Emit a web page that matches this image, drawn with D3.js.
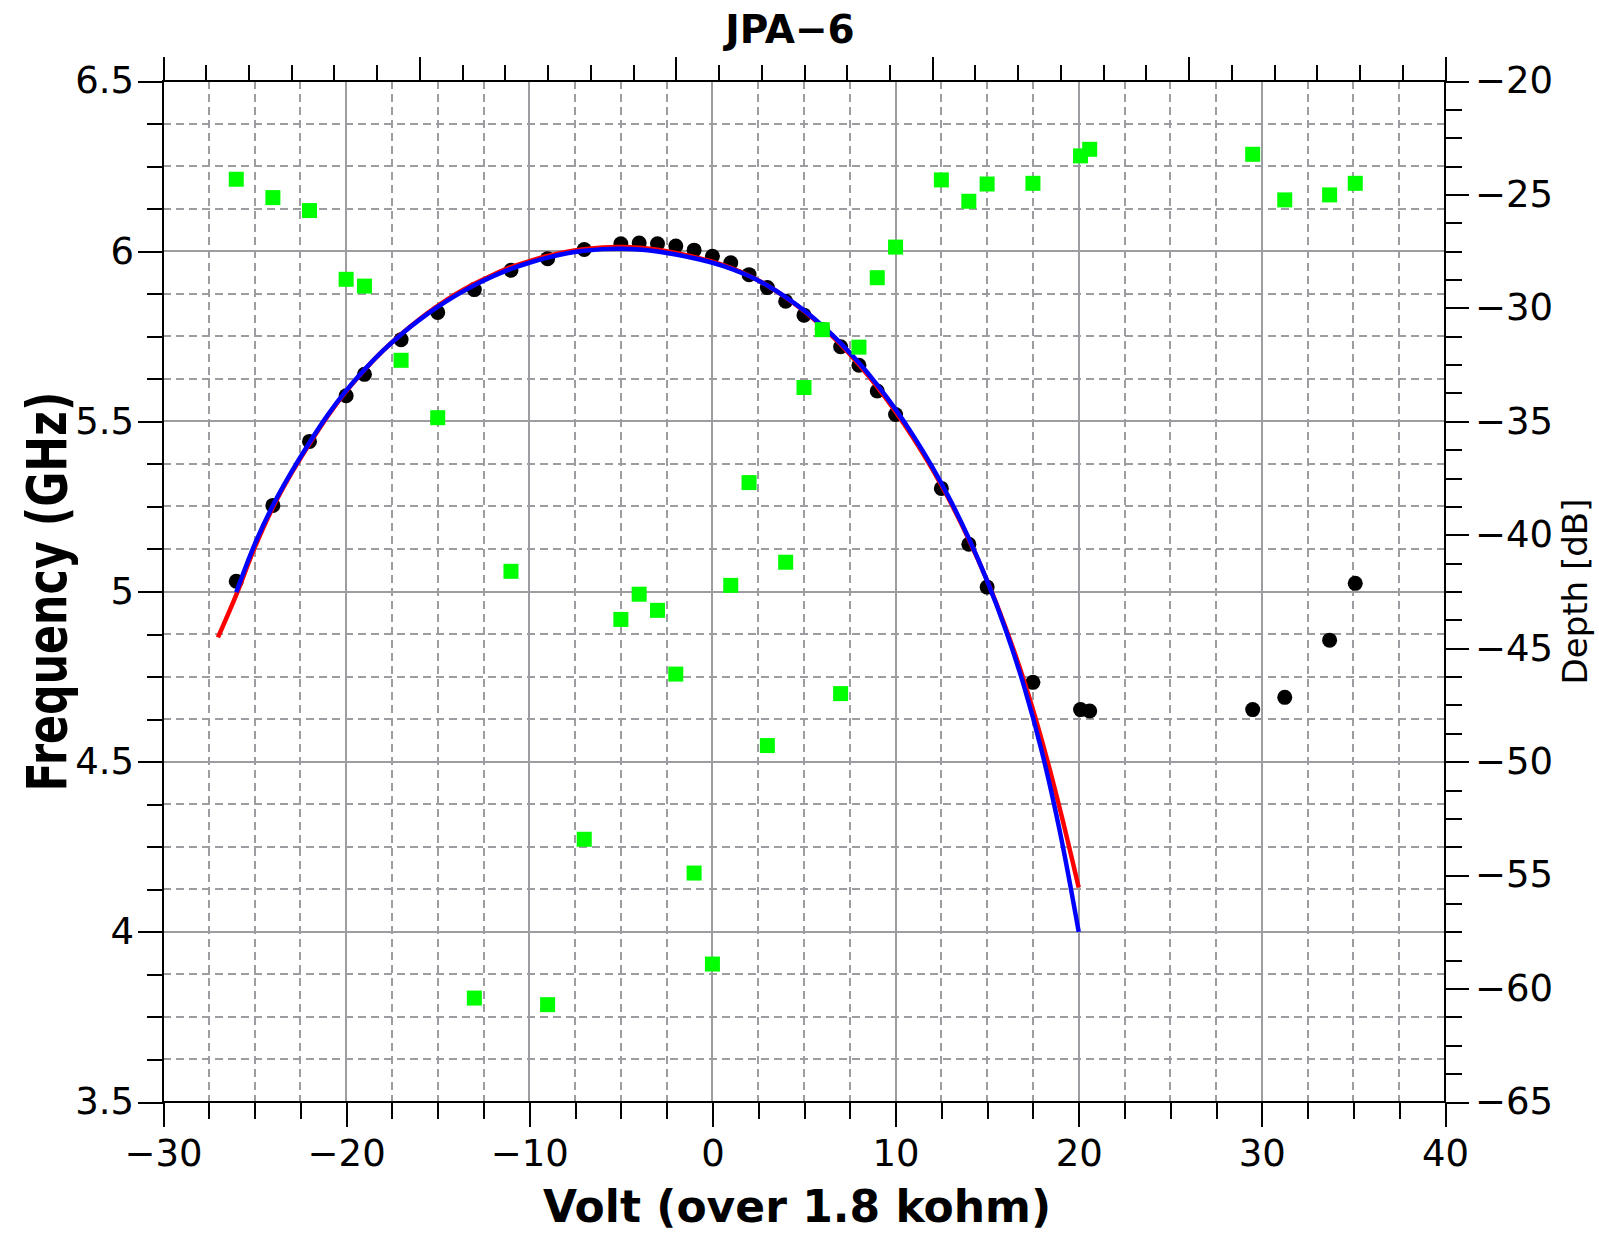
<!DOCTYPE html>
<html>
<head>
<meta charset="utf-8">
<script src="https://cdn.jsdelivr.net/npm/d3@7"></script>
<style>
  html, body { margin: 0; padding: 0; background: #ffffff; }
  svg { display: block; font-family: "DejaVu Sans", sans-serif; }
</style>
</head>
<body>
<svg id="chart" width="1599" height="1234"></svg>
<script>
// Bias voltage of each measurement (V, over 1.8 kohm)
const voltage = [-26, -24, -22, -20, -19, -17, -15, -13, -11, -9, -7, -5, -4, -3, -2, -1, 0, 1, 2, 3,
  4, 5, 6, 7, 8, 9, 10, 12.5, 14, 15, 17.5, 20.1, 20.6, 29.5, 31.25, 33.7, 35.1];

// Resonance frequency at each bias (GHz, left axis)
const frequency = [5.030, 5.253, 5.441, 5.575, 5.638, 5.740, 5.820, 5.887, 5.944, 5.978, 6.005, 6.022,
  6.024, 6.022, 6.015, 6.003, 5.985, 5.966, 5.931, 5.893, 5.853, 5.812, 5.770, 5.719, 5.665, 5.589,
  5.520, 5.303, 5.139, 5.013, 4.733, 4.653, 4.649, 4.653, 4.689, 4.857, 5.024];

// Resonance depth at each bias (dB, right axis)
const depth = [-24.33, -25.14, -25.71, -28.74, -29.04, -32.31, -34.84, -60.42, -41.61, -60.71, -53.42,
  -43.73, -42.62, -43.33, -46.14, -54.91, -58.92, -42.23, -37.70, -49.29, -41.21, -33.51, -30.96,
  -47.00, -31.73, -28.67, -27.32, -24.36, -25.30, -24.54, -24.51, -23.30, -23.01, -23.23, -25.24,
  -25.02, -24.51];

// Fit curves (red and blue), sampled every volt
const redFitVolt = [-27, -26, -25, -24, -23, -22, -21, -20, -19, -18, -17, -16, -15, -14, -13, -12, -11,
  -10, -9, -8, -7, -6, -5, -4, -3, -2, -1, 0, 1, 2, 3, 4, 5, 6, 7, 8, 9, 10, 11, 12, 13, 14, 15, 16,
  17, 18, 19, 20];
const redFitFreq = [4.865, 4.990, 5.128, 5.247, 5.346, 5.434, 5.516, 5.588, 5.651, 5.707, 5.756, 5.800,
  5.839, 5.874, 5.904, 5.930, 5.953, 5.971, 5.986, 5.998, 6.006, 6.011, 6.012, 6.010, 6.004, 5.995,
  5.983, 5.969, 5.951, 5.928, 5.899, 5.864, 5.824, 5.778, 5.726, 5.667, 5.601, 5.528, 5.448, 5.360,
  5.262, 5.153, 5.032, 4.895, 4.740, 4.560, 4.355, 4.130];

const blueFitVolt = [-26, -25, -24, -23, -22, -21, -20, -19, -18, -17, -16, -15, -14, -13, -12, -11,
  -10, -9, -8, -7, -6, -5, -4, -3, -2, -1, 0, 1, 2, 3, 4, 5, 6, 7, 8, 9, 10, 11, 12, 13, 14, 15, 16,
  17, 18, 19, 20];
const blueFitFreq = [4.998, 5.138, 5.253, 5.350, 5.438, 5.519, 5.590, 5.652, 5.707, 5.755, 5.798,
  5.836, 5.870, 5.900, 5.926, 5.948, 5.966, 5.981, 5.993, 6.001, 6.006, 6.007, 6.005, 5.999, 5.990,
  5.979, 5.966, 5.949, 5.927, 5.899, 5.865, 5.826, 5.781, 5.730, 5.672, 5.607, 5.535, 5.455, 5.366,
  5.267, 5.156, 5.031, 4.889, 4.724, 4.527, 4.287, 4.000];

// Axis ticks
const xTicks = [-30, -20, -10, 0, 10, 20, 30, 40];
const freqTicks = [3.5, 4, 4.5, 5, 5.5, 6, 6.5];
const depthTicks = [-65, -60, -55, -50, -45, -40, -35, -30, -25, -20];

const svg = d3.select("#chart");
const L = 163, R = 1445, T = 81, B = 1102;

const x = d3.scaleLinear().domain([-30, 40]).range([L, R]);
const y = d3.scaleLinear().domain([3.5, 6.5]).range([B, T]);
const yDepth = d3.scaleLinear().domain([-65, -20]).range([B, T]);
const xTop = d3.scaleLinear().domain([0, 30]).range([L, R]);

const fmt = d3.format("~g");
const gridColor = "#9d9da1";

// ---- grid ----
const minorX = d3.range(-30, 40.001, 2.5).filter(v => Math.abs(v % 10) > 1e-6);
const majorX = xTicks.filter(v => v > -30 && v < 40);
const minorY = d3.range(3.5, 6.5001, 0.125).filter(v => Math.abs(v * 2 - Math.round(v * 2)) > 1e-6);
const majorY = freqTicks.filter(v => v > 3.5 && v < 6.5);
const px = v => Math.round(v);

const grid = svg.append("g").attr("shape-rendering", "crispEdges");
grid.selectAll("line.vminor").data(minorX).join("line")
  .attr("x1", d => px(x(d))).attr("x2", d => px(x(d))).attr("y1", T).attr("y2", B)
  .attr("stroke", gridColor).attr("stroke-width", 2).attr("stroke-dasharray", "8,5");
grid.selectAll("line.hminor").data(minorY).join("line")
  .attr("y1", d => px(y(d))).attr("y2", d => px(y(d))).attr("x1", L).attr("x2", R)
  .attr("stroke", gridColor).attr("stroke-width", 2).attr("stroke-dasharray", "8,5");
grid.selectAll("line.vmajor").data(majorX).join("line")
  .attr("x1", d => px(x(d))).attr("x2", d => px(x(d))).attr("y1", T).attr("y2", B)
  .attr("stroke", gridColor).attr("stroke-width", 2);
grid.selectAll("line.hmajor").data(majorY).join("line")
  .attr("y1", d => px(y(d))).attr("y2", d => px(y(d))).attr("x1", L).attr("x2", R)
  .attr("stroke", gridColor).attr("stroke-width", 2);

// ---- axes ----
function styleAxis(g, size) {
  g.select(".domain").remove();
  g.attr("font-family", "DejaVu Sans").attr("font-size", size);
  g.selectAll(".tick line").attr("stroke", "#000").attr("stroke-width", 2)
    .attr("shape-rendering", "crispEdges");
  g.selectAll(".tick text").attr("fill", "#000");
}

// bottom
svg.append("g").attr("transform", `translate(0,${B})`)
  .call(d3.axisBottom(x).tickValues(minorX).tickSize(17).tickFormat(""))
  .call(g => styleAxis(g, 37));
svg.append("g").attr("transform", `translate(0,${B})`)
  .call(d3.axisBottom(x).tickValues(xTicks).tickSize(25).tickPadding(13).tickFormat(fmt))
  .call(g => styleAxis(g, 37));

// left
svg.append("g").attr("transform", `translate(${L},0)`)
  .call(d3.axisLeft(y).tickValues(minorY).tickSize(16).tickFormat(""))
  .call(g => styleAxis(g, 37));
svg.append("g").attr("transform", `translate(${L},0)`)
  .call(d3.axisLeft(y).tickValues(freqTicks).tickSize(25).tickPadding(4).tickFormat(fmt))
  .call(g => styleAxis(g, 37));

// right (depth)
const depthMinor = d3.range(-65, -19.999, 1.25).filter(v => Math.abs(v % 5) > 1e-6);
svg.append("g").attr("transform", `translate(${R},0)`)
  .call(d3.axisRight(yDepth).tickValues(depthMinor).tickSize(17).tickFormat(""))
  .call(g => styleAxis(g, 37));
svg.append("g").attr("transform", `translate(${R},0)`)
  .call(d3.axisRight(yDepth).tickValues(depthTicks).tickSize(24).tickPadding(6).tickFormat(fmt))
  .call(g => styleAxis(g, 37));

// top (unlabelled)
svg.append("g").attr("transform", `translate(0,${T})`)
  .call(d3.axisTop(xTop).tickValues(d3.range(0, 31, 1)).tickSize(16).tickFormat(""))
  .call(g => styleAxis(g, 37));
svg.append("g").attr("transform", `translate(0,${T})`)
  .call(d3.axisTop(xTop).tickValues(d3.range(0, 31, 6)).tickSize(24).tickFormat(""))
  .call(g => styleAxis(g, 37));

// ---- data ----
const line = d3.line().x(d => x(d[0])).y(d => y(d[1])).curve(d3.curveCatmullRom);

svg.append("g").selectAll("circle").data(d3.zip(voltage, frequency)).join("circle")
  .attr("cx", d => x(d[0])).attr("cy", d => y(d[1])).attr("r", 7.5).attr("fill", "#000");

svg.append("path").datum(d3.zip(redFitVolt, redFitFreq))
  .attr("d", line).attr("fill", "none").attr("stroke", "#ff0000").attr("stroke-width", 4.5);
svg.append("path").datum(d3.zip(blueFitVolt, blueFitFreq))
  .attr("d", line).attr("fill", "none").attr("stroke", "#0000ff").attr("stroke-width", 4.5);

const sq = 15;
svg.append("g").selectAll("rect").data(d3.zip(voltage, depth)).join("rect")
  .attr("x", d => x(d[0]) - sq / 2).attr("y", d => yDepth(d[1]) - sq / 2)
  .attr("width", sq).attr("height", sq).attr("fill", "#00ff00");

// ---- frame ----
svg.append("rect").attr("x", L).attr("y", T).attr("width", R - L).attr("height", B - T)
  .attr("fill", "none").attr("stroke", "#000").attr("stroke-width", 2)
  .attr("shape-rendering", "crispEdges");

// ---- titles ----
svg.append("text").attr("x", 790).attr("y", 43).attr("text-anchor", "middle")
  .attr("font-weight", "bold").attr("font-size", 39).text("JPA\u22126");

svg.append("text").attr("x", 797).attr("y", 1222).attr("text-anchor", "middle")
  .attr("font-weight", "bold").attr("font-size", 44).text("Volt (over 1.8 kohm)");

svg.append("text").attr("transform", "translate(66,591.5) rotate(-90)")
  .attr("text-anchor", "middle").attr("font-weight", "bold").attr("font-size", 56)
  .attr("textLength", 400).attr("lengthAdjust", "spacingAndGlyphs").text("Frequency (GHz)");

svg.append("text").attr("transform", "translate(1587,591.5) rotate(-90)")
  .attr("text-anchor", "middle").attr("font-size", 34).text("Depth [dB]");
</script>
</body>
</html>
